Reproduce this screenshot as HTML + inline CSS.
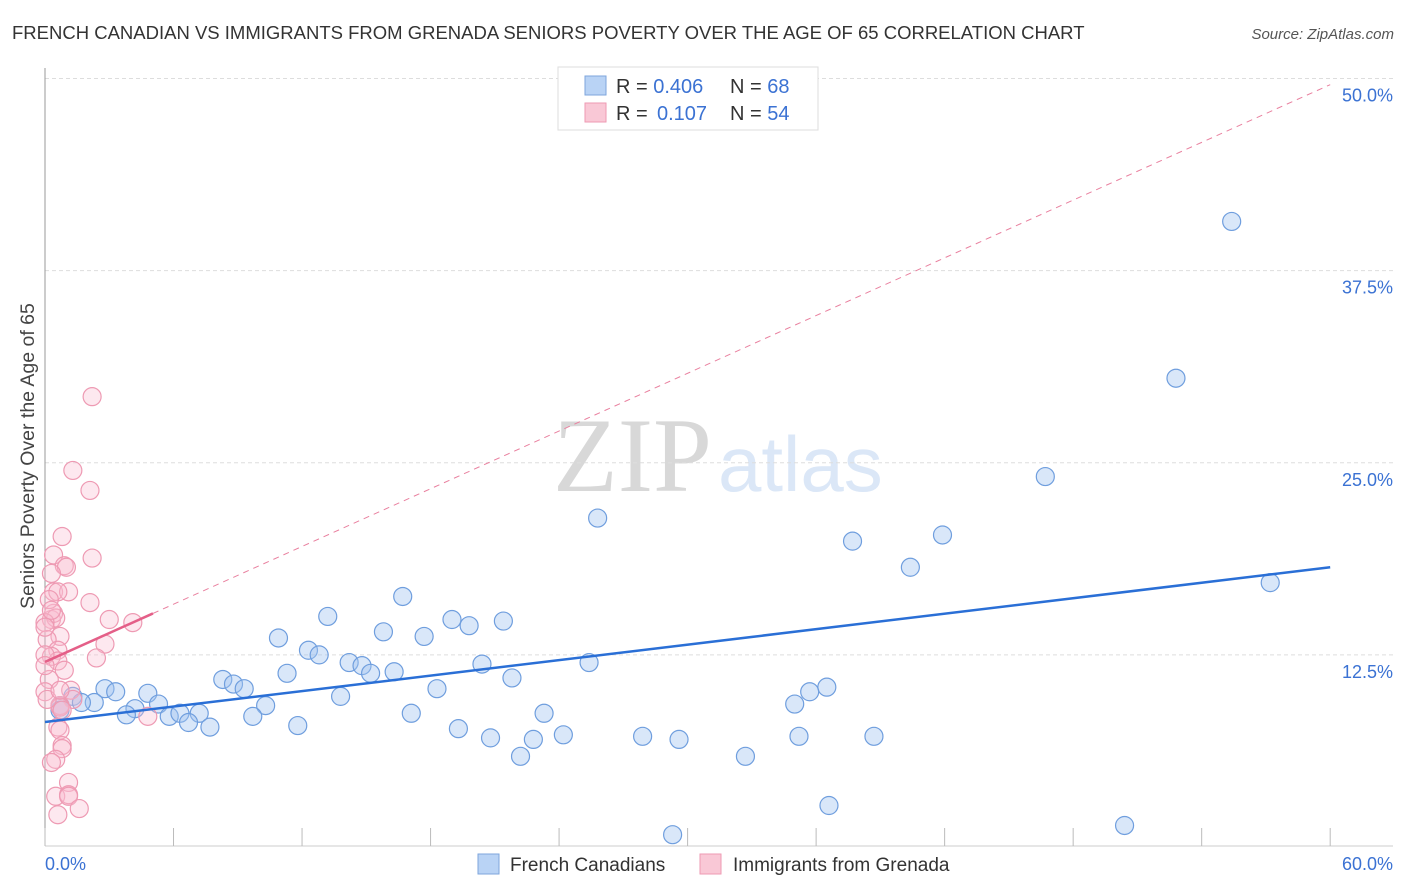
<!DOCTYPE html>
<html><head><meta charset="utf-8"><style>
body{margin:0;background:#fff;font-family:"Liberation Sans",sans-serif;}
#c{position:relative;width:1406px;height:892px;overflow:hidden;}
</style></head><body>
<div id="c">
<svg id="s" width="1406" height="892" xmlns="http://www.w3.org/2000/svg" style="position:absolute;left:0;top:0">
<text x="12" y="39" font-size="18.5" fill="#333">FRENCH CANADIAN VS IMMIGRANTS FROM GRENADA SENIORS POVERTY OVER THE AGE OF 65 CORRELATION CHART</text>
<text x="1394" y="39" font-size="15" fill="#555" font-style="italic" text-anchor="end">Source: ZipAtlas.com</text>
<text x="0" y="0" font-size="19.5" fill="#444" transform="translate(34,456) rotate(-90)" text-anchor="middle">Seniors Poverty Over the Age of 65</text>
<text x="553" y="491" font-size="106" fill="#d8d8d8" font-family="Liberation Serif,serif">ZIP</text>
<text x="718" y="491" font-size="78" fill="#dbe7f7">atlas</text>
<g id="grid"></g><g id="axes"></g><g id="pts"></g><g id="trend"></g>
<g>
<rect x="558" y="67" width="260" height="63" fill="#fff" stroke="#ddd"/>
<rect x="585" y="76" width="21" height="19" fill="#b9d3f5" stroke="#7ea6dc"/>
<rect x="585" y="103" width="21" height="19" fill="#f9c8d6" stroke="#ee9ab3"/>
<text x="616" y="93" font-size="20" fill="#333">R = <tspan fill="#3b72d3">0.406</tspan><tspan x="730">N = </tspan><tspan fill="#3b72d3">68</tspan></text>
<text x="616" y="120" font-size="20" fill="#333">R = <tspan x="657" fill="#3b72d3">0.107</tspan><tspan x="730">N = </tspan><tspan fill="#3b72d3">54</tspan></text>
</g>
<g>
<rect x="478" y="854" width="21" height="20" fill="#b9d3f5" stroke="#7ea6dc"/>
<text x="510" y="871" font-size="19" fill="#333">French Canadians</text>
<rect x="700" y="854" width="21" height="20" fill="#f9c8d6" stroke="#ee9ab3"/>
<text x="733" y="871" font-size="19" fill="#333">Immigrants from Grenada</text>
</g>
</svg>
</div>
<script>
const yTicks=[12.5,25,37.5,50];
const yTickLabels=["12.5%","25.0%","37.5%","50.0%"];
const xTickLabels=["0.0%","60.0%"];
const blueX=[55.4,52.8,46.7,25.8,37.7,41.9,40.4,57.2,16.7,13.2,19.0,21.4,19.8,15.8,17.7,10.9,12.3,12.8,14.2,14.8,15.2,16.3,11.3,20.4,25.4,21.8,8.3,8.8,9.3,18.3,36.5,35.7,35.0,13.8,10.3,4.8,2.8,3.3,1.3,2.3,1.7,0.7,5.3,4.2,3.8,5.8,6.3,7.2,6.7,7.7,9.7,11.8,17.1,23.3,19.3,20.8,22.8,24.2,27.9,29.6,35.2,38.7,22.2,32.7,36.6,29.3,50.4,0.7];
const blueY=[40.7,30.5,24.1,21.4,19.9,20.3,18.2,17.2,16.3,15.0,14.8,14.7,14.4,14.0,13.7,13.6,12.8,12.5,12.0,11.8,11.3,11.4,11.3,11.9,12.0,11.0,10.9,10.6,10.3,10.3,10.4,10.1,9.3,9.8,9.2,10.0,10.3,10.1,9.8,9.4,9.4,9.2,9.3,9.0,8.6,8.5,8.7,8.7,8.1,7.8,8.5,7.9,8.7,8.7,7.7,7.1,7.0,7.3,7.2,7.0,7.2,7.2,5.9,5.9,2.7,0.8,1.4,8.9];
const pinkX=[2.2,1.3,2.1,0.8,0.4,2.2,0.9,1.0,0.3,0.4,1.1,0.6,2.1,0.3,3.0,4.1,0.4,0.5,0.0,0.7,0.1,2.8,0.6,0.3,0.6,2.4,0.9,0.2,0.0,1.2,1.3,0.7,0.7,0.8,4.8,0.6,0.7,0.8,0.8,0.5,0.3,1.1,0.5,1.1,1.1,1.6,0.6,0.0,0.0,0.2,0.3,0.0,0.1,0.7];
const pinkY=[29.3,24.5,23.2,20.2,19.0,18.8,18.3,18.2,17.8,16.6,16.6,16.6,15.9,14.8,14.8,14.6,15.2,14.9,14.6,13.7,13.5,13.2,12.8,12.4,12.1,12.3,11.5,10.9,10.1,10.2,9.6,9.2,9.1,8.9,8.5,7.8,7.6,6.6,6.4,5.7,5.5,4.2,3.3,3.4,3.3,2.5,2.1,12.5,11.8,16.1,15.4,14.3,9.6,10.2];
const blueTrend=[8.13,18.2];
const pinkTrend=[12.04,49.6];
const pinkSolidEnd=5.04;

const NS="http://www.w3.org/2000/svg";
const X=v=>45+v*21.42, Y=v=>847-v*15.37;
function mk(t,a,p){const e=document.createElementNS(NS,t);for(const k in a)e.setAttribute(k,a[k]);p.appendChild(e);return e;}
const grid=document.getElementById('grid'),axes=document.getElementById('axes'),pts=document.getElementById('pts'),tr=document.getElementById('trend');
yTicks.forEach((v,i)=>{
 const l=mk('line',{x1:45,x2:1393,y1:Y(v),y2:Y(v),stroke:'#ddd','stroke-dasharray':'4,3'},grid);
 
 
 const t=mk('text',{x:1393,y:Y(v)+23,'font-size':18,fill:'#3b72d3','text-anchor':'end'},axes);
 t.textContent=yTickLabels[i];
 
 
});
let a=mk('line',{x1:45,x2:45,y1:68,y2:846,stroke:'#999'},axes);


a=mk('line',{x1:45,x2:1393,y1:846,y2:846,stroke:'#ccc'},axes);


for(let i=0;i<=10;i++){const t=mk('line',{x1:X(i*6),x2:X(i*6),y1:828,y2:846,stroke:'#bbb'},axes);
 
 }
xTickLabels.forEach((s,i)=>{const t=mk('text',{x:i?1393:45,y:870,'font-size':18,fill:'#3b72d3','text-anchor':i?'end':'start'},axes);
 t.textContent=s;
 
 });
blueX.forEach((v,i)=>{const c=mk('circle',{cx:X(v),cy:Y(blueY[i]),r:9,fill:'rgba(160,195,240,0.4)',stroke:'#6f9ede','stroke-width':1.2},pts);
 
 });
pinkX.forEach((v,i)=>{const c=mk('circle',{cx:X(v),cy:Y(pinkY[i]),r:9,fill:'rgba(248,190,208,0.35)',stroke:'#ee9ab3','stroke-width':1.2},pts);
 
 });
const pAt=x=>pinkTrend[0]+(pinkTrend[1]-pinkTrend[0])*x/60;
let l=mk('line',{x1:X(pinkSolidEnd),y1:Y(pAt(pinkSolidEnd)),x2:X(60),y2:Y(pinkTrend[1]),stroke:'#e9809f','stroke-width':1,'stroke-dasharray':'6,5'},tr);


l=mk('line',{x1:X(0),y1:Y(pinkTrend[0]),x2:X(pinkSolidEnd),y2:Y(pAt(pinkSolidEnd)),stroke:'#e45f88','stroke-width':2.5},tr);


l=mk('line',{x1:X(0),y1:Y(blueTrend[0]),x2:X(60),y2:Y(blueTrend[1]),stroke:'#2a6fd6','stroke-width':2.5},tr);


</script>
</body></html>
